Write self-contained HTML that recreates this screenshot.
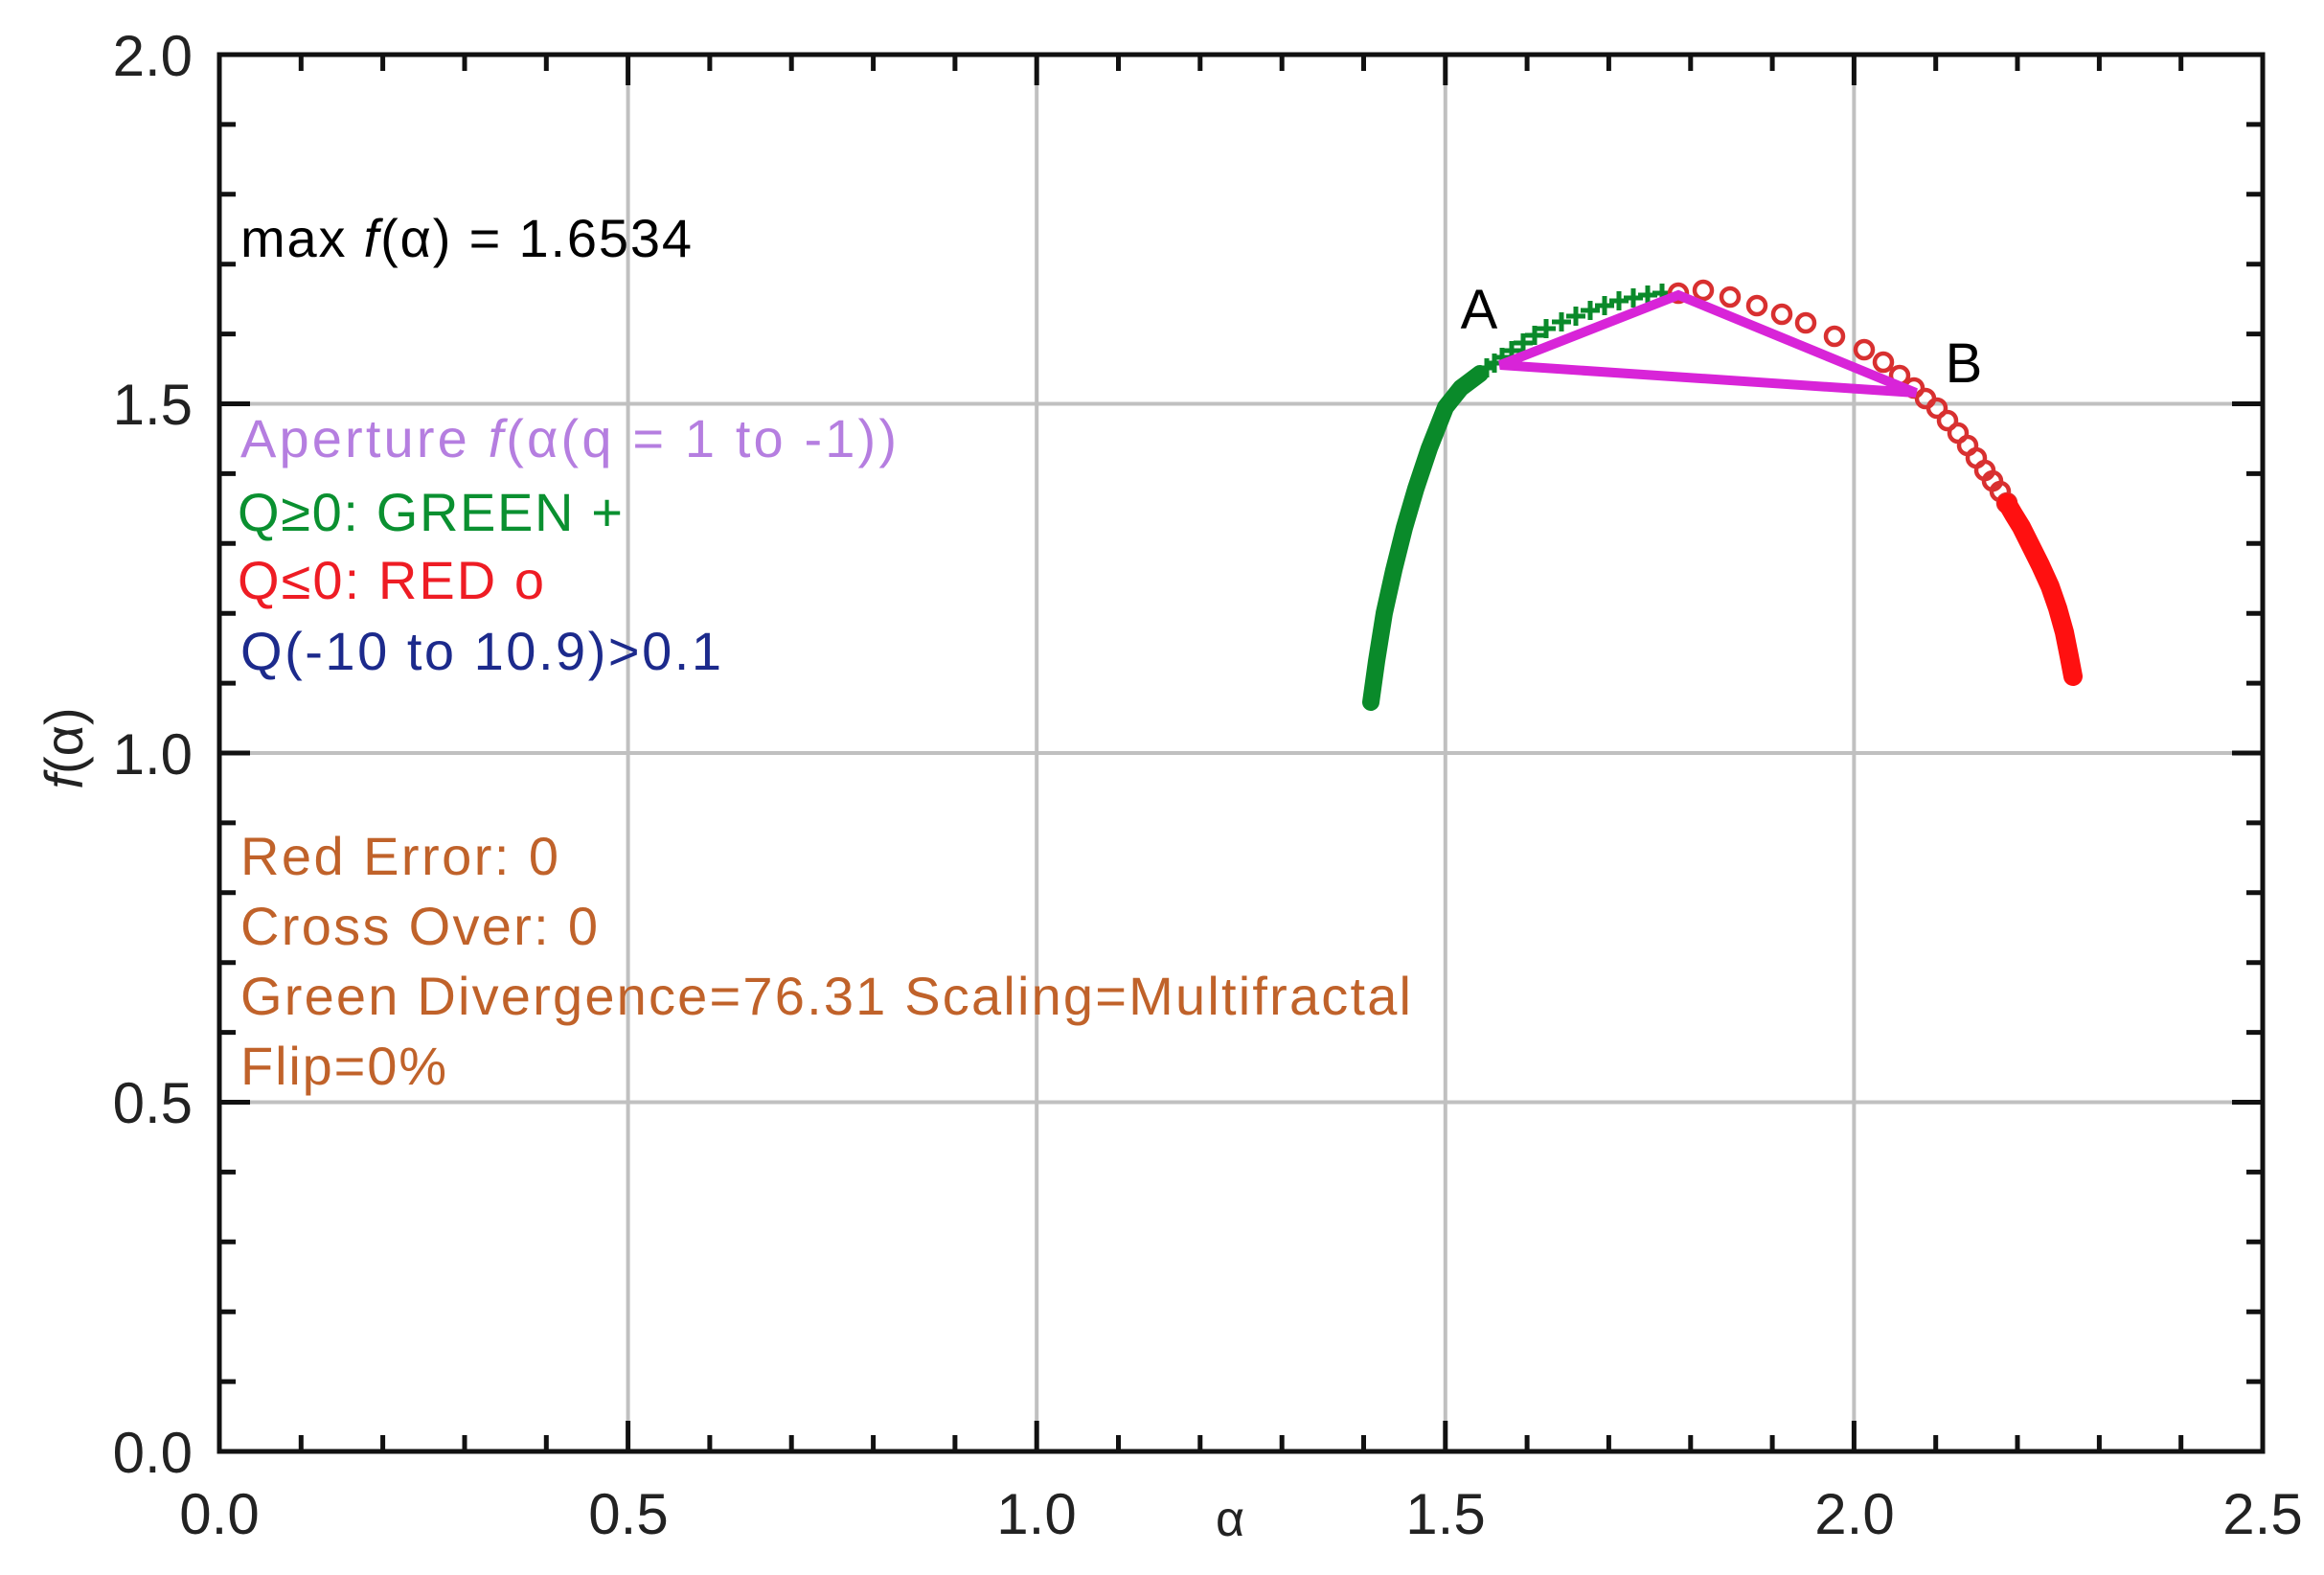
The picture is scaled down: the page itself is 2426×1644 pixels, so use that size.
<!DOCTYPE html>
<html><head><meta charset="utf-8"><style>html,body{margin:0;padding:0;background:#fff}svg{display:block}</style></head>
<body>
<svg xmlns="http://www.w3.org/2000/svg" width="2426" height="1644" viewBox="0 0 2426 1644" font-family="Liberation Sans, Arial, sans-serif">
<rect width="2426" height="1644" fill="#fff"/>
<g stroke="#c0c0c0" stroke-width="4">
<line x1="655.6" y1="57" x2="655.6" y2="1515"/>
<line x1="1082.2" y1="57" x2="1082.2" y2="1515"/>
<line x1="1508.8" y1="57" x2="1508.8" y2="1515"/>
<line x1="1935.4" y1="57" x2="1935.4" y2="1515"/>
<line x1="229" y1="1150.5" x2="2362" y2="1150.5"/>
<line x1="229" y1="786" x2="2362" y2="786"/>
<line x1="229" y1="421.5" x2="2362" y2="421.5"/>
</g>
<path stroke="#111" stroke-width="5" fill="none" d="
M314.3 1515v-17M399.6 1515v-17M485 1515v-17M570.3 1515v-17M655.6 1515v-32M740.9 1515v-17M826.2 1515v-17M911.6 1515v-17M996.9 1515v-17M1082.2 1515v-32M1167.5 1515v-17M1252.8 1515v-17M1338.2 1515v-17M1423.5 1515v-17M1508.8 1515v-32M1594.1 1515v-17M1679.4 1515v-17M1764.8 1515v-17M1850.1 1515v-17M1935.4 1515v-32M2020.7 1515v-17M2106 1515v-17M2191.4 1515v-17M2276.7 1515v-17
M314.3 57v17M399.6 57v17M485 57v17M570.3 57v17M655.6 57v32M740.9 57v17M826.2 57v17M911.6 57v17M996.9 57v17M1082.2 57v32M1167.5 57v17M1252.8 57v17M1338.2 57v17M1423.5 57v17M1508.8 57v32M1594.1 57v17M1679.4 57v17M1764.8 57v17M1850.1 57v17M1935.4 57v32M2020.7 57v17M2106 57v17M2191.4 57v17M2276.7 57v17
M229 1442.1h17M229 1369.2h17M229 1296.3h17M229 1223.4h17M229 1150.5h32M229 1077.6h17M229 1004.7h17M229 931.8h17M229 858.9h17M229 786h32M229 713.1h17M229 640.2h17M229 567.3h17M229 494.4h17M229 421.5h32M229 348.6h17M229 275.7h17M229 202.8h17M229 129.9h17
M2362 1442.1h-17M2362 1369.2h-17M2362 1296.3h-17M2362 1223.4h-17M2362 1150.5h-32M2362 1077.6h-17M2362 1004.7h-17M2362 931.8h-17M2362 858.9h-17M2362 786h-32M2362 713.1h-17M2362 640.2h-17M2362 567.3h-17M2362 494.4h-17M2362 421.5h-32M2362 348.6h-17M2362 275.7h-17M2362 202.8h-17M2362 129.9h-17"/>
<rect x="229" y="57" width="2133" height="1458" fill="none" stroke="#111" stroke-width="5"/>

<polyline fill="none" stroke="#0a8a2a" stroke-width="18" stroke-linecap="round" stroke-linejoin="round" points="1431,733 1437,690 1445,640 1455,595 1466,551 1478,510 1492,468 1509,425 1525,405 1545,390"/>
<g stroke="#0a8a2a" stroke-width="5" fill="none">
<path d="M1542 384h20M1552 374v20M1550 379h20M1560 369v20M1558 373h20M1568 363v20M1568 366h20M1578 356v20M1580 358h20M1590 348v20M1592 350h20M1602 340v20M1604 343h20M1614 333v20M1620 336h20M1630 326v20M1635 330h20M1645 320v20M1650 324h20M1660 314v20M1665 319h20M1675 309v20M1680 314h20M1690 304v20M1695 311h20M1705 301v20M1710 308h20M1720 298v20M1725 306h20M1735 296v20"/>
</g>
<g stroke="#d83030" stroke-width="4.5" fill="none">
<circle cx="1752" cy="306" r="9"/><circle cx="1778" cy="303" r="9"/><circle cx="1806" cy="310" r="9"/><circle cx="1834" cy="319" r="9"/><circle cx="1860" cy="328" r="9"/><circle cx="1885" cy="337" r="9"/><circle cx="1915" cy="351" r="9"/><circle cx="1946" cy="365" r="9"/><circle cx="1966" cy="378" r="9"/><circle cx="1983" cy="392" r="9"/><circle cx="1998" cy="405" r="9"/><circle cx="2010" cy="416" r="9"/><circle cx="2022" cy="426" r="9"/><circle cx="2033" cy="439" r="9"/><circle cx="2044" cy="452" r="9"/><circle cx="2054" cy="465" r="9"/><circle cx="2063" cy="478" r="9"/><circle cx="2072" cy="491" r="9"/><circle cx="2080" cy="502" r="9"/><circle cx="2088" cy="513" r="9"/><circle cx="2095" cy="525" r="9"/>
</g>
<polyline fill="none" stroke="#ff1010" stroke-width="20" stroke-linecap="round" stroke-linejoin="round" points="2095,525 2102,537 2110,550 2120,570 2130,590 2140,612 2148,635 2155,660 2160,685 2164,706"/>
<polygon points="1566,381 1752,308 2000,410" fill="none" stroke="#d824d8" stroke-width="10"/>

<g font-size="60" fill="#222">
<text x="201" y="79" text-anchor="end">2.0</text>
<text x="201" y="443" text-anchor="end">1.5</text>
<text x="201" y="808" text-anchor="end">1.0</text>
<text x="201" y="1172" text-anchor="end">0.5</text>
<text x="201" y="1537" text-anchor="end">0.0</text>
<text x="229" y="1601" text-anchor="middle">0.0</text>
<text x="656" y="1601" text-anchor="middle">0.5</text>
<text x="1082" y="1601" text-anchor="middle">1.0</text>
<text x="1509" y="1601" text-anchor="middle">1.5</text>
<text x="1936" y="1601" text-anchor="middle">2.0</text>
<text x="2362" y="1601" text-anchor="middle">2.5</text>
<text x="1284" y="1603" text-anchor="middle" font-size="52">α</text>
<text transform="translate(86,781) rotate(-90)" text-anchor="middle" font-size="56"><tspan font-style="italic">f</tspan>(α)</text>
</g>
<text x="1544" y="343" font-size="58" text-anchor="middle" fill="#000">A</text>
<text x="2050" y="399" font-size="58" text-anchor="middle" fill="#000">B</text>
<g font-size="56">
<text x="251" y="268" fill="#000" textLength="471">max <tspan font-style="italic">f</tspan>(α) = 1.6534</text>
<text x="251" y="477" fill="#b57ee0" textLength="685">Aperture <tspan font-style="italic">f</tspan>(α(q = 1 to -1))</text>
<text x="248" y="554" fill="#0a9030" textLength="402">Q≥0: GREEN +</text>
<text x="248" y="625" fill="#ee1c24" textLength="320">Q≤0: RED o</text>
<text x="251" y="699" fill="#1c2a8c" textLength="502">Q(-10 to 10.9)&gt;0.1</text>
<text x="251" y="913" fill="#c0622a" textLength="332">Red Error: 0</text>
<text x="251" y="986" fill="#c0622a" textLength="373">Cross Over: 0</text>
<text x="251" y="1059" fill="#c0622a" textLength="1222">Green Divergence=76.31 Scaling=Multifractal</text>
<text x="251" y="1132" fill="#c0622a" textLength="215">Flip=0%</text>
</g>
</svg>
</body></html>
